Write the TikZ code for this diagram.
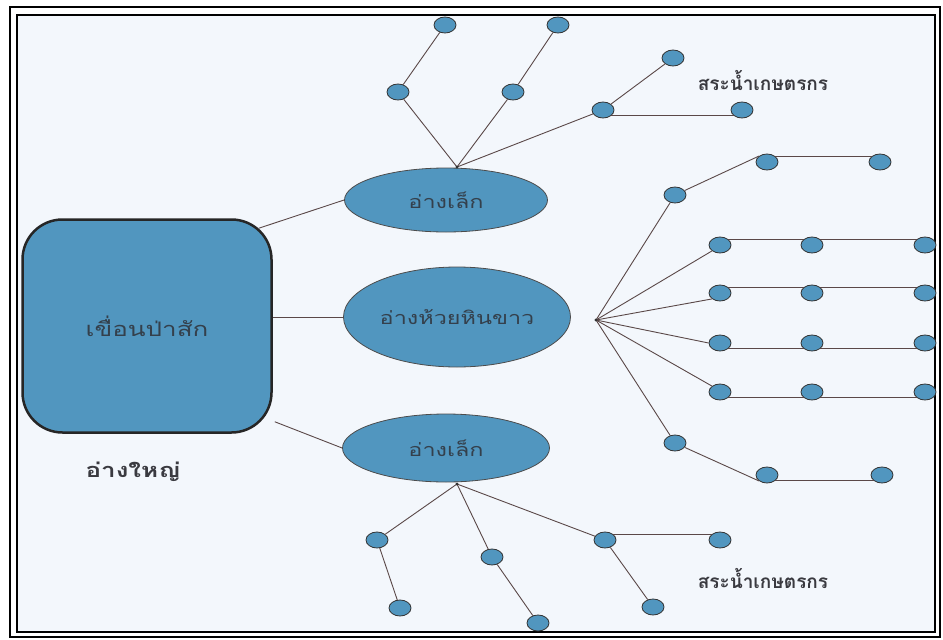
\documentclass[tikz,border=0pt]{standalone}
\usepackage{fontspec}
\newfontfamily\thaifont[Script=Thai]{Loma}
\newfontfamily\thaiwide[Script=Thai,FakeStretch=1.3]{Loma}
\usetikzlibrary{shapes.geometric}
\definecolor{fillblue}{HTML}{5196BF}
\definecolor{edgecol}{HTML}{5A4848}
\definecolor{bgcol}{HTML}{F3F7FC}
\definecolor{txtgrey}{HTML}{3A3A40}
\definecolor{intxt}{HTML}{34404C}
\begin{document}
\begin{tikzpicture}[x=1pt,y=-1pt,
  dot/.style={ellipse, draw=black!80, line width=0.8pt, fill=fillblue, minimum width=22pt, minimum height=16pt, inner sep=0pt},
  pond/.style={ellipse, draw=black!70, line width=0.8pt, fill=fillblue, inner sep=0pt, font=\thaiwide\fontsize{18}{20}\selectfont, text=intxt},
  link/.style={draw=edgecol, line width=0.9pt},
  lbl/.style={font=\thaifont\bfseries\fontsize{19}{21}\selectfont, text=txtgrey}]
\fill[white] (0,0) rectangle (943,640);
\useasboundingbox (0,0) rectangle (943,640);
\fill[bgcol] (17,15) rectangle (935,632);
\draw[line width=2pt] (10,7) rectangle (940,637);
\draw[line width=1.5pt] (17,15) rectangle (935,632);

% main dam
\node[draw=black!85, line width=2.5pt, rounded corners=40pt, fill=fillblue,
      minimum width=249pt, minimum height=213pt, font=\thaiwide\fontsize{20}{22}\selectfont, text=intxt] (dam) at (147,326) {เขื่อนป่าสัก};

% ponds
\node[pond, minimum width=203pt, minimum height=64pt] (p1) at (446,200) {อ่างเล็ก};
\node[pond, minimum width=227pt, minimum height=100pt] (p2) at (457,317) {อ่างห้วยหินขาว};
\node[pond, minimum width=207pt, minimum height=68pt] (p3) at (446,448) {อ่างเล็ก};

\draw[link] ([shift={(-14,10)}]dam.north east) -- (p1.west);
\draw[link] (dam.east |- p2.west) -- (p2.west);
\draw[link] ([shift={(2,-12)}]dam.south east) -- (p3.west);

% roots
\coordinate (r1) at (457,167);
\coordinate (r2) at (596,320);
\coordinate (r3) at (457,484);

% top star
\node[dot] (a1) at (398,92) {};
\node[dot] (a2) at (445,25) {};
\node[dot] (b1) at (513,92) {};
\node[dot] (b2) at (558,25) {};
\node[dot] (c1) at (603,110) {};
\node[dot] (c2) at (673,58) {};
\node[dot] (c3) at (742,110) {};
\draw[link] (r1) -- (a1); \draw[link] (a1) -- (a2);
\draw[link] (r1) -- (b1); \draw[link] (b1) -- (b2);
\draw[link] (r1) -- (c1); \draw[link] (c1) -- (c2);
\draw[link] (c1.south east) -- (c3.south west);

% middle star
\node[dot] (d1) at (675,195) {};
\node[dot] (d2) at (767,162) {};
\node[dot] (d3) at (880,162) {};
\node[dot] (e1) at (720,245) {};
\node[dot] (e2) at (812,245) {};
\node[dot] (e3) at (925,245) {};
\node[dot] (f1) at (720,293) {};
\node[dot] (f2) at (812,293) {};
\node[dot] (f3) at (925,293) {};
\node[dot] (g1) at (720,343) {};
\node[dot] (g2) at (812,343) {};
\node[dot] (g3) at (925,343) {};
\node[dot] (h1) at (720,392) {};
\node[dot] (h2) at (812,392) {};
\node[dot] (h3) at (925,392) {};
\node[dot] (i1) at (675,443) {};
\node[dot] (i2) at (767,475) {};
\node[dot] (i3) at (882,475) {};
\draw[link] (r2) -- (d1); \draw[link] (d1) -- (d2.north west); \draw[link] (d2.north east) -- (d3.north west);
\draw[link] (r2) -- (e1.south west); \draw[link] (e1.north east) -- (e2.north west); \draw[link] (e2.north east) -- (e3.north west);
\draw[link] (r2) -- (f1.south west); \draw[link] (f1.north east) -- (f2.north west); \draw[link] (f2.north east) -- (f3.north west);
\draw[link] (r2) -- (g1.west); \draw[link] (g1.south east) -- (g2.south west); \draw[link] (g2.south east) -- (g3.south west);
\draw[link] (r2) -- (h1.north west); \draw[link] (h1.south east) -- (h2.south west); \draw[link] (h2.south east) -- (h3.south west);
\draw[link] (r2) -- (i1); \draw[link] (i1) -- (i2.south west); \draw[link] (i2.south east) -- (i3.south west);

% bottom star
\node[dot] (j1) at (377,540) {};
\node[dot] (j2) at (400,608) {};
\node[dot] (k1) at (492,557) {};
\node[dot] (k2) at (538,623) {};
\node[dot] (l1) at (605,540) {};
\node[dot] (l2) at (653,607) {};
\node[dot] (l3) at (720,540) {};
\draw[link] (r3) -- (j1); \draw[link] (j1) -- (j2);
\draw[link] (r3) -- (k1); \draw[link] (k1) -- (k2);
\draw[link] (r3) -- (l1); \draw[link] (l1) -- (l2);
\draw[link] (l1.north east) -- (l3.north west);

\fill[black!80] (r1) circle (1.6);
\fill[black!80] (r2) circle (1.6);
\fill[black!80] (r3) circle (1.6);

% labels
\node[lbl] (s1) at (763,80) {สระน้ำเกษตรกร};
\node[lbl] (s2) at (763,578) {สระน้ำเกษตรกร};
\node[lbl, font=\thaiwide\bfseries\fontsize{20}{22}\selectfont] (big) at (133,472) {อ่างใหญ่};
\end{tikzpicture}
\end{document}
